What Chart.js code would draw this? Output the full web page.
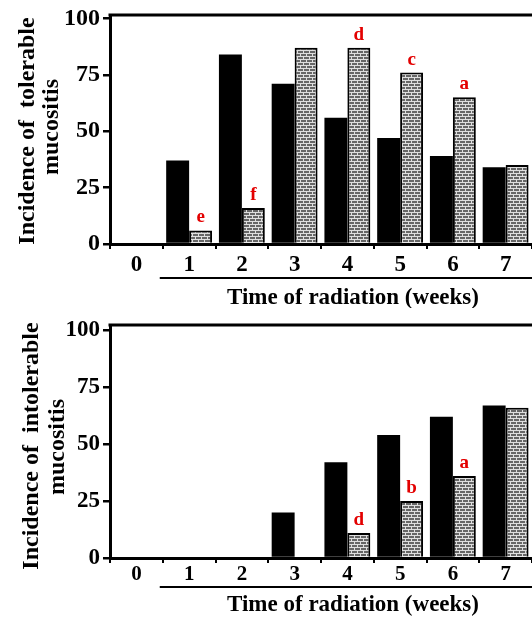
<!DOCTYPE html>
<html>
<head>
<meta charset="utf-8">
<script src="https://cdn.jsdelivr.net/npm/chart.js@4.4.1/dist/chart.umd.min.js"></script>
<style>
  html, body { margin: 0; padding: 0; background: #fff; overflow: hidden; }
  canvas { display: block; }
</style>
</head>
<body>
<canvas id="tolerable" width="532" height="308"></canvas>
<canvas id="intolerable" width="532" height="309"></canvas>
<script>
var weeks = ['0', '1', '2', '3', '4', '5', '6', '7'];
var yTicks = [0, 25, 50, 75, 100];

// upper panel - tolerable mucositis
var tolControl = [0, 37, 84, 71, 56, 47, 39, 34];
var tolTreated = [0, 6, 16, 87, 87, 76, 65, 35];
var tolLetters = ['', 'e', 'f', '', 'd', 'c', 'a', ''];

// lower panel - intolerable mucositis
var intolControl = [0, 0, 0, 20, 42, 54, 62, 67];
var intolTreated = [0, 0, 0, 0, 11, 25, 36, 66];
var intolLetters = ['', '', '', '', 'd', 'b', 'a', ''];

var serif = '"Liberation Serif", "Times New Roman", serif';

function brickPattern() {
  var c = document.createElement('canvas');
  c.width = 6; c.height = 6;
  var g = c.getContext('2d');
  g.fillStyle = '#dedede';
  g.fillRect(0, 0, 6, 6);
  g.fillStyle = '#666666';
  g.fillRect(1, 0, 5, 2);
  g.fillRect(0, 3, 3, 2);
  g.fillRect(4, 3, 2, 2);
  return g.createPattern(c, 'repeat');
}

var extras = {
  id: 'extras',
  afterDraw: function (chart, args, o) {
    var ctx = chart.ctx, a = chart.chartArea;
    ctx.save();
    ctx.strokeStyle = '#000';
    ctx.fillStyle = '#000';

    // top frame line
    ctx.lineWidth = 3;
    ctx.beginPath();
    ctx.moveTo(a.left - 1.5, a.top);
    ctx.lineTo(a.right, a.top);
    ctx.stroke();

    // line under weeks 1..7 and axis title
    var xs = chart.scales.x;
    var x0 = xs.getPixelForValue(1) - xs.width / weeks.length / 2 - 3;
    ctx.lineWidth = 2;
    ctx.beginPath();
    ctx.moveTo(x0, o.bracketY);
    ctx.lineTo(chart.width, o.bracketY);
    ctx.stroke();
    ctx.font = 'bold 23px ' + serif;
    ctx.textAlign = 'center';
    ctx.textBaseline = 'middle';
    ctx.fillText('Time of radiation (weeks)', 353, o.titleY);

    // rotated y title, two lines
    ctx.font = 'bold 24px ' + serif;
    o.yTitle.forEach(function (t) {
      ctx.save();
      ctx.translate(t.x, t.y);
      ctx.rotate(-Math.PI / 2);
      ctx.fillText(t.text, 0, 0);
      ctx.restore();
    });

    // significance letters above the patterned bars
    var meta = chart.getDatasetMeta(1);
    ctx.fillStyle = '#e30000';
    ctx.font = 'bold 19px ' + serif;
    ctx.textBaseline = 'alphabetic';
    meta.data.forEach(function (bar, i) {
      if (o.letters[i]) ctx.fillText(o.letters[i], bar.x, bar.y - 8);
    });
    ctx.restore();
  }
};

function makeChart(id, control, treated, letters, p) {
  return new Chart(document.getElementById(id), {
    type: 'bar',
    data: {
      labels: weeks,
      datasets: [
        { data: control, backgroundColor: '#000', borderWidth: 0, inflateAmount: 0 },
        { data: treated, backgroundColor: brickPattern(), borderColor: '#000', borderWidth: 2, inflateAmount: 0 }
      ]
    },
    options: {
      responsive: false,
      animation: false,
      categoryPercentage: 0.87,
      barPercentage: 1,
      layout: { padding: { top: p.top, left: 0, right: 0, bottom: 0 } },
      plugins: {
        legend: { display: false },
        tooltip: { enabled: false },
        extras: { letters: letters, bracketY: p.bracketY, titleY: p.titleY, yTitle: p.yTitle }
      },
      scales: {
        x: {
          offset: true,
          grid: { offset: true, drawOnChartArea: false, color: '#000', lineWidth: 2, tickLength: 5 },
          border: { color: '#000', width: 3 },
          ticks: { color: '#000', padding: p.xPad, maxRotation: 0,
                   font: { family: serif, size: p.xFont, weight: 'bold', lineHeight: 1 } },
          afterFit: function (s) { s.height = p.xHeight; }
        },
        y: {
          min: 0,
          max: p.yMax,
          afterBuildTicks: function (s) { s.ticks = yTicks.map(function (v) { return { value: v }; }); },
          grid: { drawOnChartArea: false, color: '#000', lineWidth: 2.5, tickLength: 7 },
          border: { color: '#000', width: 3 },
          ticks: { color: '#000', padding: 3,
                   font: { family: serif, size: p.yFont, weight: 'bold', lineHeight: 1 } },
          afterFit: function (s) { s.width = 110; }
        }
      }
    },
    plugins: [extras]
  });
}

makeChart('tolerable', tolControl, tolTreated, tolLetters, {
  top: 12, xHeight: 64, yMax: 101.5, xFont: 23, yFont: 24, xPad: 5,
  bracketY: 278, titleY: 298,
  yTitle: [{ text: 'Incidence of  tolerable', x: 28, y: 131 },
           { text: 'mucositis', x: 52, y: 127 }]
});

makeChart('intolerable', intolControl, intolTreated, intolLetters, {
  top: 17, xHeight: 59, yMax: 102.3, xFont: 21, yFont: 23, xPad: 1,
  bracketY: 279, titleY: 297,
  yTitle: [{ text: 'Incidence of  intolerable', x: 32, y: 138 },
           { text: 'mucositis', x: 58, y: 139 }]
});
</script>
</body>
</html>
